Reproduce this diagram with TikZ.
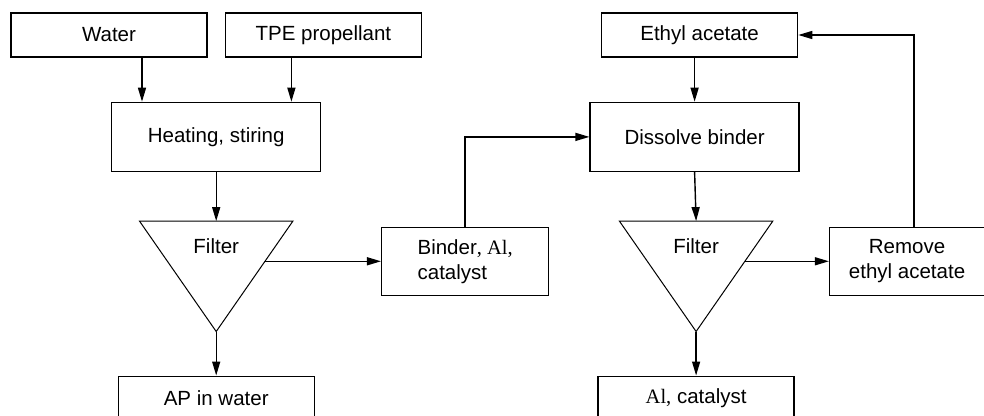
\documentclass[tikz,border=0pt]{standalone}
\usepackage{fontspec}
\setmainfont{Liberation Sans}
\newfontfamily\elemfont{Liberation Serif}
\usetikzlibrary{arrows.meta, positioning, calc}

\begin{document}
\begin{tikzpicture}[
    x=1pt, y=1pt,
    node distance=44pt and 17pt,
    font=\fontsize{20.5}{25}\selectfont,
    stepbox/.style={draw=black, rectangle, line width=1.4pt, align=center, inner sep=4pt, minimum width=196pt, minimum height=44pt},
    tallbox/.style={stepbox, minimum width=209pt, minimum height=69pt},
    sidebox/.style={stepbox, minimum height=68pt},
    filtzone/.style={rectangle, inner sep=0pt, minimum width=153pt, minimum height=110pt},
    filtline/.style={draw=black, line width=1pt, line join=miter},
    arrow/.style={-{Triangle[length=14pt,width=8pt]}, line width=1.4pt, draw=black}
]

\useasboundingbox (0,0) rectangle (984,-415);

\node (water) [stepbox] at (109,-35) {Water};
\node (tpe) [stepbox, right=17pt of water] {TPE propellant};

% Heating sits between the two feed boxes
\coordinate (feed_mid) at ($(water.south)!0.5!(tpe.south)$);
\node (heat) [tallbox, below=44pt of feed_mid] {Heating, stiring};

\node (filt1) [filtzone, below=49pt of heat] {};
\node (filt1_txt) [anchor=base, inner sep=0pt] at ([yshift=-32pt]filt1.north) {Filter};
\coordinate (f1out) at ($(filt1.north east)!0.364!(filt1.south)$);
\node (ap) [stepbox, below=44pt of filt1] {AP in water};

\node (binder) [sidebox, minimum width=167pt, align=left, right=116pt of f1out] {Binder{\elemfont, Al,}\\catalyst};

\node (dissolve) [tallbox, right=268pt of heat] {Dissolve binder};
\node (ethyl) [stepbox, above=44pt of dissolve, xshift=5pt] {Ethyl acetate};

\node (filt2) [filtzone, below=49pt of dissolve, xshift=1.5pt] {};
\node (filt2_txt) [anchor=base, inner sep=0pt] at ([yshift=-32pt]filt2.north) {Filter};
\coordinate (f2out) at ($(filt2.north east)!0.364!(filt2.south)$);
\node (alcat) [stepbox, below=44pt of filt2] {{\elemfont Al,} catalyst};

\node (remove) [sidebox, minimum width=155pt, right=84pt of f2out] {Remove\\ethyl acetate};

% the two filter funnels
\draw [filtline] (filt1.north west) -- (filt1.north east) -- (filt1.south) -- cycle;
\draw [filtline] (filt2.north west) -- (filt2.north east) -- (filt2.south) -- cycle;

\draw [arrow] ([xshift=33pt]water.south) -- ([xshift=33pt]water.south |- heat.north);
\draw [arrow] ([xshift=-32pt]tpe.south) -- ([xshift=-32pt]tpe.south |- heat.north);
\draw [arrow] (heat.south) -- (filt1.north);
\draw [arrow] (filt1.south) -- (ap.north);
\draw [arrow] (f1out) -- (binder.west);
\draw [arrow] (binder.north) |- (dissolve.west);

\draw [arrow] (dissolve.north |- ethyl.south) -- (dissolve.north);
\draw [arrow] (dissolve.south) -- (filt2.north);
\draw [arrow] (filt2.south) -- (alcat.north);
\draw [arrow] (f2out) -- (remove.west);
\draw [arrow] ([xshift=7pt]remove.north) |- (ethyl.east);

\end{tikzpicture}
\end{document}
